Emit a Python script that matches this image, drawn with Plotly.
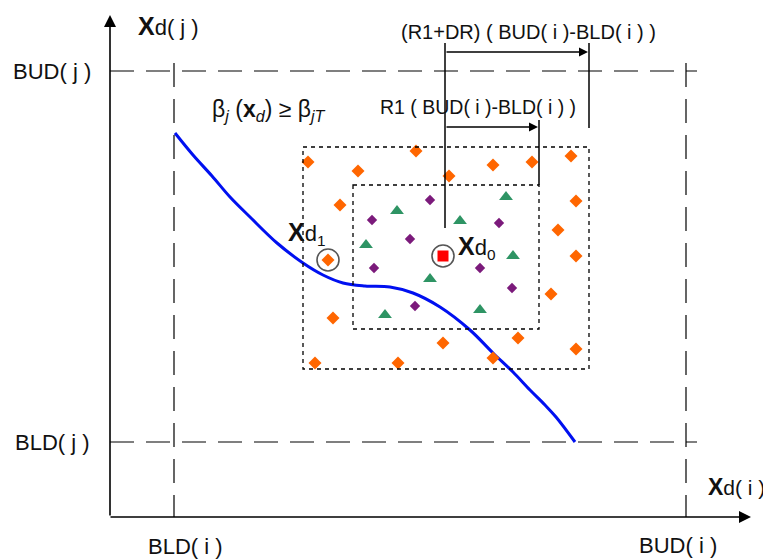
import plotly.graph_objects as go

W, H = 771, 559
OFF = 8  # page body margin compensation
FONT = "Liberation Sans, Arial, sans-serif"

# ---- bounds (diagram units, y grows downward) ----
BLD_I, BUD_I = 174, 686
BUD_J, BLD_J = 71, 442
AXIS_X0, AXIS_Y0 = 110, 517
AXIS_X_TIP, AXIS_Y_TIP = 751, 15

# search boxes: [x0, x1, y0, y1]
box_r1 = [353, 539, 185, 329]
box_r1dr = [303, 589, 147, 369]

# blue limit-state curve beta_j(x_d) = beta_jT
curve_x = [175, 193, 212, 230, 250, 277, 303, 323, 343, 365, 390, 413, 440, 470, 493, 513, 530, 545, 556, 575]
curve_y = [133, 155, 176, 197, 217, 243, 263, 275, 283, 286, 287, 293, 307, 330, 353, 372, 390, 405, 417, 442]

# sample points
orange_x = [308, 416, 358, 449, 493, 532, 571, 340, 576, 558, 576, 328, 551, 333, 443, 518, 576, 493, 315, 398]
orange_y = [162, 151, 171, 176, 165, 162, 156, 205, 201, 230, 256, 260, 294, 318, 343, 338, 349, 358, 363, 363]
purple_x = [430, 372, 499, 410, 374, 480, 512, 415]
purple_y = [200, 220, 223, 239, 268, 268, 288, 306]
green_x = [506, 397, 460, 366, 513, 430, 480, 385]
green_y = [197, 211, 221, 245, 256, 279, 310, 315]
xd0 = (443, 256)
xd1 = (328, 260)

fig = go.Figure()

# dashed bound lines
dash_big = "24px,12px"
for yy in (BUD_J, BLD_J):
    fig.add_shape(type="line", x0=AXIS_X0, x1=BUD_I + 11, y0=yy, y1=yy,
                  line=dict(color="black", width=1.2, dash=dash_big))
for xx in (BLD_I, BUD_I):
    fig.add_shape(type="line", x0=xx, x1=xx, y0=BUD_J - 8, y1=AXIS_Y0,
                  line=dict(color="black", width=1.2, dash=dash_big))

# dotted boxes
for b in (box_r1dr, box_r1):
    fig.add_shape(type="rect", x0=b[0], x1=b[1], y0=b[2], y1=b[3],
                  line=dict(color="black", width=1.3, dash="4px,4px"))

# vertical marker lines for the radii
fig.add_shape(type="line", x0=xd0[0] + 2, x1=xd0[0] + 2, y0=43, y1=228, line=dict(color="black", width=1.5))
fig.add_shape(type="line", x0=box_r1dr[1], x1=box_r1dr[1], y0=43, y1=128, line=dict(color="black", width=1.5))
fig.add_shape(type="line", x0=box_r1[1], x1=box_r1[1], y0=120, y1=box_r1[2], line=dict(color="black", width=1.5))

# blue curve
fig.add_trace(go.Scatter(x=curve_x, y=curve_y, mode="lines", line=dict(color="#0010F0", width=3, shape="spline"),
                         hoverinfo="skip"))

# circles around xd1 and xd0
fig.add_trace(go.Scatter(x=[xd1[0], xd0[0]], y=[xd1[1], xd0[1]], mode="markers",
                         marker=dict(symbol="circle-open", size=22, color="#555555", line=dict(width=1.6)),
                         hoverinfo="skip"))

fig.add_trace(go.Scatter(x=orange_x, y=orange_y, mode="markers",
                         marker=dict(symbol="diamond", size=10, color="#FF6600"), hoverinfo="skip"))
fig.add_trace(go.Scatter(x=purple_x, y=purple_y, mode="markers",
                         marker=dict(symbol="diamond", size=8, color="#7B1A7B"), hoverinfo="skip"))
fig.add_trace(go.Scatter(x=green_x, y=green_y, mode="markers",
                         marker=dict(symbol="triangle-up", size=12, color="#2E9464"), hoverinfo="skip"))
fig.add_trace(go.Scatter(x=[xd0[0]], y=[xd0[1]], mode="markers",
                         marker=dict(symbol="square", size=11, color="#FF0000"), hoverinfo="skip"))

ann = []
# axes with arrows
ann.append(dict(x=AXIS_X0, y=AXIS_Y_TIP, ax=AXIS_X0, ay=AXIS_Y0, xref="x", yref="y", axref="x", ayref="y",
                showarrow=True, arrowhead=2, arrowsize=1.5, arrowwidth=1.6, arrowcolor="black", text=""))
ann.append(dict(x=AXIS_X_TIP, y=AXIS_Y0, ax=AXIS_X0 - 1, ay=AXIS_Y0, xref="x", yref="y", axref="x", ayref="y",
                showarrow=True, arrowhead=2, arrowsize=1.5, arrowwidth=1.6, arrowcolor="black", text=""))
# radius arrows
ann.append(dict(x=box_r1dr[1] - 1, y=52, ax=xd0[0] + 2, ay=52, xref="x", yref="y", axref="x", ayref="y",
                showarrow=True, arrowhead=2, arrowsize=1.2, arrowwidth=1.5, arrowcolor="black", text=""))
ann.append(dict(x=box_r1[1] - 1, y=127, ax=xd0[0] + 2, ay=127, xref="x", yref="y", axref="x", ayref="y",
                showarrow=True, arrowhead=2, arrowsize=1.2, arrowwidth=1.5, arrowcolor="black", text=""))

def label(x, y, text, size=22):
    ann.append(dict(x=x, y=y, xref="x", yref="y", text=text, showarrow=False,
                    font=dict(family=FONT, size=size, color="#111111"), xanchor="center", yanchor="middle"))

BIGX = "<span style='font-size:25px'><b>X</b></span>"
BIGX2 = "<span style='font-size:23px'><b>X</b></span>"
label(52, BUD_J, "BUD( j )")
label(52, BLD_J, "BLD( j )")
label(185, 546, "BLD( i )")
label(678, 545, "BUD( i )")
label(168, 26, BIGX + "d( j )")
label(736, 487, BIGX2 + "d( i )", 21)
label(528, 32, "(R1+DR) ( BUD( i )-BLD( i ) )", 20)
label(478, 107, "R1 ( BUD( i )-BLD( i ) )", 19.5)
label(268, 110, "β<sub><i>j</i></sub> (<b>x</b><sub><i>d</i></sub>) ≥ β<sub><i>jT</i></sub>", 23)
label(307, 233, BIGX + "d<sub>1</sub>", 22)
label(477, 247, BIGX + "d<sub>0</sub>", 22)

fig.update_layout(
    width=W, height=H, margin=dict(l=0, r=0, t=0, b=0),
    paper_bgcolor="white", plot_bgcolor="white", showlegend=False,
    xaxis=dict(range=[OFF, W + OFF], visible=False, fixedrange=True),
    yaxis=dict(range=[H + OFF, OFF], visible=False, fixedrange=True),
    annotations=ann,
)

fig.write_html("out.html")
